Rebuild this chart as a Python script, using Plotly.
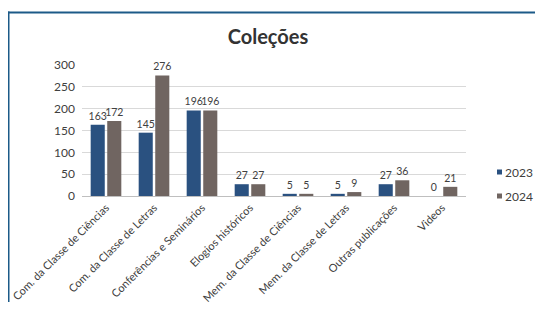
import plotly.graph_objects as go

categories = ["Com. da Classe de Ciências", "Com. da Classe de Letras", "Conferências e Seminários",
              "Elogios históricos", "Mem. da Classe de Ciências", "Mem. da Classe de Letras",
              "Outras publicações", "Videos"]
values_2023 = [163, 145, 196, 27, 5, 5, 27, 0]
values_2024 = [172, 276, 196, 27, 5, 9, 36, 21]
series_names = ["2023", "2024"]
y_ticks = [0, 50, 100, 150, 200, 250, 300]

FONT = "Lato, 'Open Sans', sans-serif"
TXT = "#404040"
COLORS = ["#2a5180", "#706561"]

fig = go.Figure()
for name, vals, col in zip(series_names, [values_2023, values_2024], COLORS):
    fig.add_trace(go.Bar(name=name, x=categories, y=vals, text=vals,
                         textposition="outside", cliponaxis=False, constraintext="none",
                         showlegend=False,
                         marker=dict(color=col, line=dict(width=0)),
                         textfont=dict(size=10.5, color=TXT, family=FONT)))

# page body has an 8px margin: figure is drawn offset by (8, 8)
OFF = 8
FW, FH = 543 - 2 * OFF, 310 - 2 * OFF
L, T = 82 - OFF, 65 - OFF
W, H = 384, 131
def px(x):
    return (x - OFF - L) / W
def py(y):
    return 1 - (y - OFF - T) / H

shapes = [
    dict(type="line", xref="paper", yref="paper", x0=px(4), x1=px(560), y0=py(12.5), y1=py(12.5),
         line=dict(color="#1c5a88", width=2)),
    dict(type="line", xref="paper", yref="paper", x0=px(8.7), x1=px(8.7), y0=py(11.5), y1=py(330),
         line=dict(color="#1c5a88", width=1.6)),
]
annotations = []
legend_y = [172, 196]
for name, col, ly in zip(series_names, COLORS, legend_y):
    shapes.append(dict(type="rect", xref="paper", yref="paper",
                       x0=px(497), x1=px(502), y0=py(ly + 2.5), y1=py(ly - 2.5),
                       fillcolor=col, line=dict(width=0)))
    annotations.append(dict(text=name, xref="paper", yref="paper", x=px(504), y=py(ly),
                            xanchor="left", yanchor="middle", showarrow=False, borderpad=0,
                            font=dict(size=12, color=TXT, family=FONT)))

fig.update_layout(
    width=FW, height=FH,
    margin=dict(l=L, r=FW - L - W, t=T, b=FH - T - H, pad=0, autoexpand=False),
    paper_bgcolor="white", plot_bgcolor="white",
    font=dict(family=FONT, color=TXT, size=12),
    barmode="group", bargap=0.31, bargroupgap=0.15,
    title=dict(text="<b>Coleções</b>", x=(268 - OFF) / FW, xanchor="center", xref="container",
               y=1 - (37 - OFF) / FH, yanchor="middle", yref="container",
               font=dict(size=20, color="#333333", family=FONT)),
    showlegend=False,
    xaxis=dict(tickangle=-45, tickfont=dict(size=11, color=TXT, family=FONT),
               showgrid=False, showline=True, linecolor="#bfbfbf", linewidth=1,
               ticks="", fixedrange=True, automargin=False),
    yaxis=dict(range=[0, 300], tickvals=y_ticks, showgrid=True, gridcolor="#d9d9d9",
               gridwidth=1, zeroline=False, showline=False, ticks="", automargin=False,
               tickfont=dict(size=12, color=TXT, family=FONT), ticklabelstandoff=6),
    shapes=shapes,
    annotations=annotations,
)

fig.write_html("out.html")
